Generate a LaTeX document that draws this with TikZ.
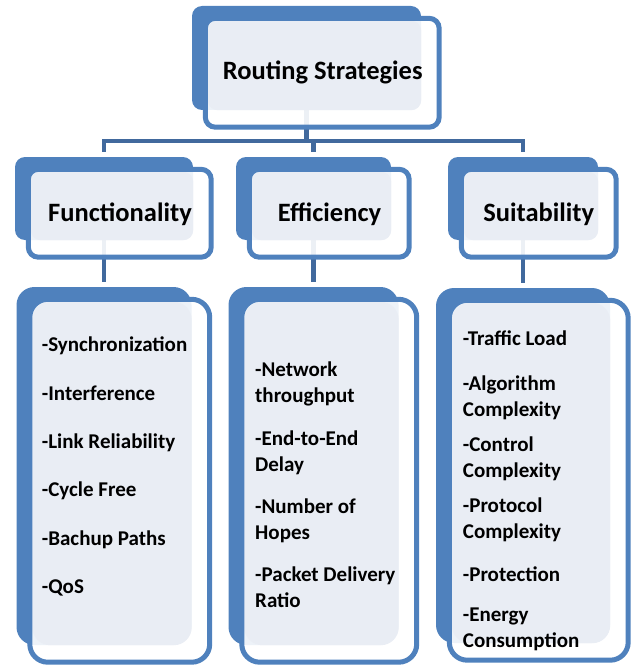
\documentclass[tikz,border=0pt]{standalone}
\usepackage{fontspec}
\setmainfont{Carlito}
\usetikzlibrary{backgrounds}

\definecolor{boxblue}{HTML}{4F81BD}
\definecolor{boxlight}{HTML}{E9EDF4}
\definecolor{linkblue}{HTML}{41699D}

\tikzset{
  backbox/.style={fill=boxblue, rounded corners=#1, inner sep=0pt},
  link/.style={draw=linkblue, line width=4.5pt},
  headtext/.style={font=\fontsize{26.5}{31}\selectfont\bfseries, anchor=base, inner sep=0pt},
  itemtext/.style={font=\fontsize{21}{26}\selectfont\bfseries, align=left, anchor=base west, inner sep=0pt}
}

\begin{document}
\begin{tikzpicture}[x=1pt, y=-1pt]
          \useasboundingbox (0,0) rectangle (635,666);

          \node[backbox=10pt, minimum width=229pt, minimum height=104pt] (root) at (306.5,58) {};
          \node[backbox=10pt, minimum width=178pt, minimum height=83pt] (func) at (104,198.5) {};
          \node[backbox=10pt, minimum width=155pt, minimum height=83pt] (eff) at (313.5,198.5) {};
          \node[backbox=10pt, minimum width=150pt, minimum height=83pt] (suit) at (523,198.5) {};
          \node[backbox=18pt, minimum width=175pt, minimum height=358pt] (funclist) at (104,466) {};
          \node[backbox=18pt, minimum width=170pt, minimum height=358pt] (efflist) at (313.5,466) {};
          \node[backbox=18pt, minimum width=174pt, minimum height=355pt] (suitlist) at (523,465.5) {};

          \coordinate (bus) at (0,141);
          \begin{scope}[on background layer]
            \draw[link] (root.center) -- (root.center |- bus);
            \draw[link, shorten <=5pt, shorten >=5pt] (func.north) |- (suit.north |- bus) -- (suit.north);
            \draw[link, shorten >=5pt] (eff.north |- bus) -- (eff.north);
            \draw[link, shorten >=5pt] (func.center) -- (funclist.north);
            \draw[link, shorten >=5pt] (eff.center) -- (efflist.north);
            \draw[link, shorten >=5pt] (suit.center) -- (suitlist.north);
          \end{scope}

          \foreach \n/\r in {root/10pt, func/10pt, eff/10pt, suit/10pt, funclist/18pt, efflist/18pt, suitlist/18pt}{
            \fill[white, opacity=.9, rounded corners=\r] ([shift={(13.5,12.5)}]\n.north west) rectangle ([shift={(18,17)}]\n.south east);
            \fill[boxlight, rounded corners=\r] ([shift={(16,15)}]\n.north west) rectangle (\n.south east);
            \draw[boxblue, line width=5pt, rounded corners=\r] ([shift={(13.5,12.5)}]\n.north west) rectangle ([shift={(18,17)}]\n.south east);
          }

          \node[headtext] (roottext) at (322.7,80) {Routing Strategies};
          \node[headtext] (functext) at (120,221) {Functionality};
          \node[headtext] (efftext) at (329.5,221) {Efficiency};
          \node[headtext] (suittext) at (538.7,221) {Suitability};

          % multi-line items sit on the baseline of their last line
          \foreach \t/\y [count=\i] in {{-Synchronization}/351.7, {-Interference}/400, {-Link Reliability}/448.3,
              {-Cycle Free}/496.6, {-Bachup Paths}/545, {-QoS}/593.3}{
            \node[itemtext] (funcitem\i) at (41.7,\y) {\t};
          }

          \foreach \t/\y [count=\i] in {{-Network\\throughput}/402.7, {-End-to-End\\Delay}/471.7,
              {-Number of\\Hopes}/539.3, {-Packet Delivery\\Ratio}/607.7}{
            \node[itemtext] (effitem\i) at (255,\y) {\t};
          }

          \foreach \t/\y [count=\i] in {{-Traffic Load}/345.7, {-Algorithm\\Complexity}/416, {-Control\\Complexity}/477,
              {-Protocol\\Complexity}/538.3, {-Protection}/581.7, {-Energy\\Consumption}/647.7}{
            \node[itemtext] (suititem\i) at (462.7,\y) {\t};
          }
        \end{tikzpicture}
\end{document}
